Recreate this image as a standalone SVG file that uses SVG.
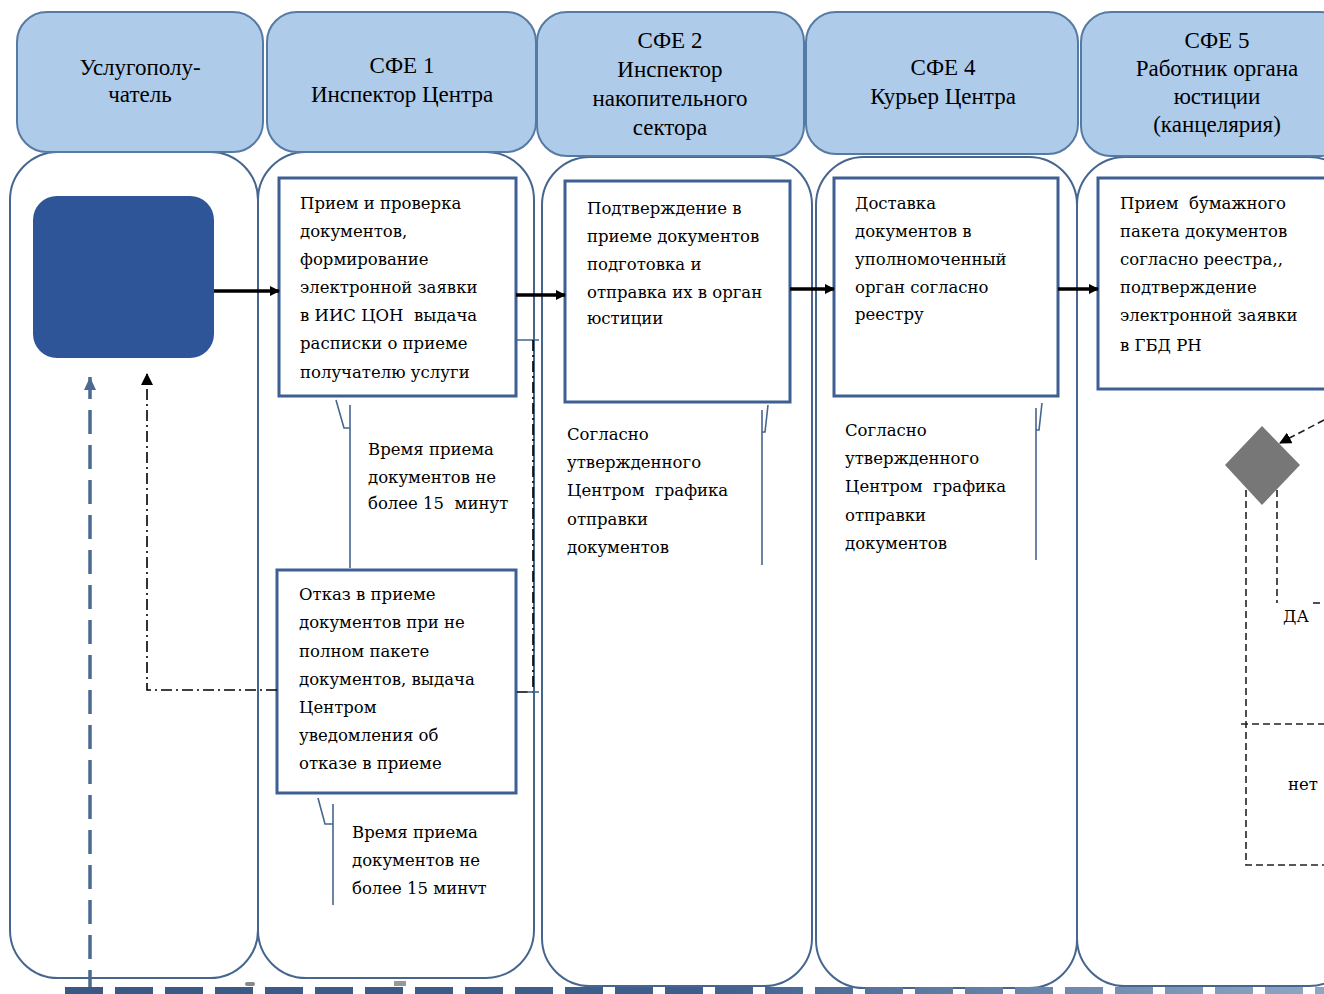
<svg xmlns="http://www.w3.org/2000/svg" width="1324" height="994" viewBox="0 0 1324 994">
<style>
.hdr{fill:#aecbea;stroke:#557aa3;stroke-width:2}
.lane{fill:#fff;stroke:#46668f;stroke-width:2}
.box{fill:#fff;stroke:#3d5f93;stroke-width:3}
.ht{font-family:"Liberation Serif","Times New Roman",serif;font-size:23px;fill:#000;text-anchor:middle}
.bt{font-family:"DejaVu Serif","Liberation Serif",serif;font-size:16.5px;fill:#000;white-space:pre}
.flow{stroke:#000;stroke-width:3.5;fill:none}
.dd{stroke:#000;stroke-width:1.6;fill:none;stroke-dasharray:11,4,2,4}
.dash{stroke:#222;stroke-width:1.6;fill:none;stroke-dasharray:7,4}
.call{stroke:#46668f;stroke-width:1.6;fill:none}
</style>
<defs>
<marker id="ah" markerWidth="10" markerHeight="10" refX="9" refY="5" orient="auto" markerUnits="userSpaceOnUse"><path d="M0,0 L10,5 L0,10 z" fill="#000"/></marker>
<marker id="ahs" markerWidth="12" markerHeight="12" refX="11" refY="6" orient="auto" markerUnits="userSpaceOnUse"><path d="M0,0 L12,6 L0,12 z" fill="#000"/></marker>
<marker id="ahb" markerWidth="14" markerHeight="14" refX="13" refY="7" orient="auto" markerUnits="userSpaceOnUse"><path d="M0,1 L13,7 L0,13 z" fill="#4a6a90"/></marker>
<linearGradient id="bg" x1="65" y1="0" x2="1324" y2="0" gradientUnits="userSpaceOnUse"><stop offset="0" stop-color="#3a5883"/><stop offset="0.5" stop-color="#3e5f8c"/><stop offset="1" stop-color="#8fa6c4"/></linearGradient>
</defs>
<rect width="1324" height="994" fill="#fff"/>

<g id="lanes">
<rect class="lane" x="10" y="152" width="248" height="826" rx="48"/>
<rect class="lane" x="258" y="152" width="276" height="826" rx="48"/>
<rect class="lane" x="542" y="157" width="270" height="829" rx="48"/>
<rect class="lane" x="816" y="157" width="261" height="831" rx="48"/>
<rect class="lane" x="1077" y="157" width="280" height="829" rx="48"/>
</g>

<g id="headers">
<g id="h1"><rect class="hdr" x="17" y="12" width="246" height="140" rx="30"/>
<text class="ht" x="140" y="75">Услугополу-</text><text class="ht" x="140" y="102">чатель</text></g>
<g id="h2"><rect class="hdr" x="267" y="12" width="269" height="140" rx="30"/>
<text class="ht" x="402" y="73">СФЕ 1</text><text class="ht" x="402" y="102">Инспектор Центра</text></g>
<g id="h3"><rect class="hdr" x="537" y="12" width="267" height="144" rx="30"/>
<text class="ht" x="670" y="48">СФЕ 2</text><text class="ht" x="670" y="77">Инспектор</text><text class="ht" x="670" y="106">накопительного</text><text class="ht" x="670" y="135">сектора</text></g>
<g id="h4"><rect class="hdr" x="806" y="12" width="272" height="142" rx="30"/>
<text class="ht" x="943" y="75">СФЕ 4</text><text class="ht" x="943" y="104">Курьер Центра</text></g>
<g id="h5"><rect class="hdr" x="1081" y="12" width="270" height="144" rx="30"/>
<text class="ht" x="1217" y="48">СФЕ 5</text><text class="ht" x="1217" y="76">Работник органа</text><text class="ht" x="1217" y="104">юстиции</text><text class="ht" x="1217" y="132">(канцелярия)</text></g>
</g>

<g id="start"><rect x="33" y="196" width="181" height="162" rx="24" fill="#2e5597"/></g>

<g id="boxA"><rect class="box" x="279" y="178" width="237" height="218"/>
<text class="bt" x="300" y="209">Прием и проверка</text>
<text class="bt" x="300" y="237">документов,</text>
<text class="bt" x="300" y="265">формирование</text>
<text class="bt" x="300" y="293">электронной заявки</text>
<text class="bt" x="300" y="321">в ИИС ЦОН  выдача</text>
<text class="bt" x="300" y="349">расписки о приеме</text>
<text class="bt" x="300" y="378">получателю услуги</text>
</g>

<g id="boxB"><rect class="box" x="565" y="181" width="225" height="221"/>
<text class="bt" x="587" y="214">Подтверждение в</text>
<text class="bt" x="587" y="242">приеме документов</text>
<text class="bt" x="587" y="270">подготовка и</text>
<text class="bt" x="587" y="298">отправка их в орган</text>
<text class="bt" x="587" y="324">юстиции</text>
</g>

<g id="boxC"><rect class="box" x="834" y="178" width="224" height="218"/>
<text class="bt" x="855" y="209">Доставка</text>
<text class="bt" x="855" y="237">документов в</text>
<text class="bt" x="855" y="265">уполномоченный</text>
<text class="bt" x="855" y="293">орган согласно</text>
<text class="bt" x="855" y="320">реестру</text>
</g>

<g id="boxD"><rect class="box" x="1098" y="178" width="240" height="211"/>
<text class="bt" x="1120" y="209">Прием  бумажного</text>
<text class="bt" x="1120" y="237">пакета документов</text>
<text class="bt" x="1120" y="265">согласно реестра,,</text>
<text class="bt" x="1120" y="293">подтверждение</text>
<text class="bt" x="1120" y="321">электронной заявки</text>
<text class="bt" x="1120" y="351">в ГБД РН</text>
</g>

<g id="boxE"><rect class="box" x="277" y="570" width="239" height="223"/>
<text class="bt" x="299" y="600">Отказ в приеме</text>
<text class="bt" x="299" y="628">документов при не</text>
<text class="bt" x="299" y="657">полном пакете</text>
<text class="bt" x="299" y="685">документов, выдача</text>
<text class="bt" x="299" y="713">Центром</text>
<text class="bt" x="299" y="741">уведомления об</text>
<text class="bt" x="299" y="769">отказе в приеме</text>
</g>

<g id="noteA"><path class="call" d="M336,400 L344,428 L350,428 M350,405 L350,568"/>
<text class="bt" x="368" y="455">Время приема</text>
<text class="bt" x="368" y="483">документов не</text>
<text class="bt" x="368" y="509">более 15  минут</text>
</g>

<g id="noteE"><path class="call" d="M318,798 L325,824 L333,824 M333,804 L333,905"/>
<text class="bt" x="352" y="838">Время приема</text>
<text class="bt" x="352" y="866">документов не</text>
<text class="bt" x="352" y="894">более 15 минvт</text>
</g>

<g id="noteB"><path class="call" d="M768,405 L765,432 L762,432 M762,410 L762,565"/>
<text class="bt" x="567" y="440">Согласно</text>
<text class="bt" x="567" y="468">утвержденного</text>
<text class="bt" x="567" y="496">Центром  графика</text>
<text class="bt" x="567" y="525">отправки</text>
<text class="bt" x="567" y="553">документов</text>
</g>

<g id="noteC"><path class="call" d="M1042,403 L1039,430 L1036,430 M1036,408 L1036,560"/>
<text class="bt" x="845" y="436">Согласно</text>
<text class="bt" x="845" y="464">утвержденного</text>
<text class="bt" x="845" y="492">Центром  графика</text>
<text class="bt" x="845" y="521">отправки</text>
<text class="bt" x="845" y="549">документов</text>
</g>

<g id="decision"><polygon points="1262,426 1300,465 1262,505 1225,465" fill="#777"/>
<text class="bt" x="1283" y="622">ДА</text>
<text class="bt" x="1288" y="790">нет</text>
</g>

<g id="connectors">
<line class="flow" x1="214" y1="291" x2="279" y2="291" marker-end="url(#ah)"/>
<line class="flow" x1="516" y1="295" x2="565" y2="295" marker-end="url(#ah)"/>
<line class="flow" x1="790" y1="289" x2="834" y2="289" marker-end="url(#ah)"/>
<line class="flow" x1="1058" y1="289" x2="1098" y2="289" marker-end="url(#ah)"/>
<path class="call" d="M516,340 L533,340 M527,340 L539,340"/>
<path class="dd" d="M533,340 L533,692 L516,692"/>
<path class="call" d="M527,692 L539,692"/>
<path class="dd" d="M277,690 L147,690 L147,374" marker-end="url(#ahs)"/>
<line x1="90" y1="994" x2="90" y2="377" stroke="#4a6a90" stroke-width="3.5" stroke-dasharray="24,11" marker-end="url(#ahb)"/>
<rect x="65" y="987" width="1259" height="12" fill="none"/>
<path d="M65,993 L1324,993" stroke="url(#bg)" stroke-width="12" stroke-dasharray="38,12"/>
<rect x="245" y="982" width="10" height="4" rx="2" fill="#888"/>
<rect x="394" y="981" width="12" height="5" fill="#999"/>
<line class="dash" x1="1324" y1="420" x2="1280" y2="443" marker-end="url(#ahs)"/>
<path class="dash" d="M1246,490 L1246,865 L1324,865"/>
<path class="dash" d="M1277,490 L1277,603"/>
<line class="dash" x1="1313" y1="603" x2="1324" y2="603"/>
<line class="dash" x1="1241" y1="724" x2="1324" y2="724"/>
</g>
</svg>
